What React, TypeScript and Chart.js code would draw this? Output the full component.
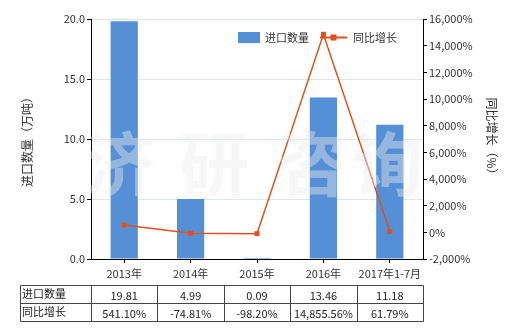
import React, { useEffect, useRef } from "react";
import { Chart, registerables } from "chart.js";

Chart.register(...registerables);

const categories = ["2013年", "2014年", "2015年", "2016年", "2017年1-7月"];
const importQty = [19.81, 4.99, 0.09, 13.46, 11.18];
const yoyGrowth = [541.1, -74.81, -98.2, 14855.56, 61.79];
const qtyLabels = ["19.81", "4.99", "0.09", "13.46", "11.18"];
const yoyLabels = ["541.10%", "-74.81%", "-98.20%", "14,855.56%", "61.79%"];
const seriesNames = ["进口数量", "同比增长"];
const watermark = ["济", "研", "咨", "询"];

const BAR = "#5590d6";
const LINE = "#e0501c";
const FONT = "'Noto Sans CJK SC', 'DejaVu Sans', sans-serif";
const TEXT = "#333333";

export default function App() {
  const ref = useRef<HTMLCanvasElement | null>(null);

  useEffect(() => {
    document.body.style.margin = "0";
    const canvas = ref.current!;
    const decor = {
      id: "decor",
      afterDatasetsDraw(chart: any) {
        const ctx = chart.ctx as CanvasRenderingContext2D;
        ctx.save();
        ctx.font = `bold 70px ${FONT}`;
        ctx.fillStyle = "rgba(236,236,236,0.42)";
        ctx.textAlign = "center";
        ctx.textBaseline = "middle";
        const wx = [120, 214, 312, 388];
        watermark.forEach((c, i) => ctx.fillText(c, wx[i], 164));
        ctx.restore();
      },
      afterDraw(chart: any) {
        const ctx = chart.ctx as CanvasRenderingContext2D;
        const x = chart.scales.x;
        ctx.save();
        // legend
        ctx.fillStyle = BAR;
        ctx.fillRect(238, 32, 22, 11);
        ctx.font = `11px ${FONT}`;
        ctx.fillStyle = TEXT;
        ctx.textBaseline = "middle";
        ctx.textAlign = "left";
        ctx.fillText(seriesNames[0], 265, 38);
        ctx.strokeStyle = LINE;
        ctx.lineWidth = 2;
        ctx.beginPath();
        ctx.moveTo(320, 37.5);
        ctx.lineTo(347, 37.5);
        ctx.stroke();
        ctx.fillStyle = LINE;
        ctx.fillRect(330.5, 34.5, 6, 6);
        ctx.fillStyle = TEXT;
        ctx.fillText(seriesNames[1], 353, 38);

        // table
        const n = categories.length;
        const half = (x.getPixelForValue(1) - x.getPixelForValue(0)) / 2;
        const left = 20.5;
        const colEdges = [left];
        for (let i = 0; i < n; i++) colEdges.push(Math.round(x.getPixelForValue(i) - half) + 0.5);
        colEdges.push(Math.round(x.getPixelForValue(n - 1) + half) + 0.5);
        const rows = [285.5, 303.5, 321.5];
        ctx.strokeStyle = "#444444";
        ctx.lineWidth = 1;
        ctx.beginPath();
        rows.forEach((r) => {
          ctx.moveTo(left, r);
          ctx.lineTo(colEdges[colEdges.length - 1], r);
        });
        colEdges.forEach((c) => {
          ctx.moveTo(c, rows[0]);
          ctx.lineTo(c, rows[2]);
        });
        ctx.stroke();
        ctx.fillStyle = "#222222";
        ctx.font = `11px ${FONT}`;
        ctx.textAlign = "left";
        ctx.fillText(seriesNames[0], 22, 294);
        ctx.fillText(seriesNames[1], 22, 312);
        ctx.textAlign = "center";
        for (let i = 0; i < n; i++) {
          const cx = x.getPixelForValue(i);
          ctx.fillText(qtyLabels[i], cx, 295.5);
          ctx.fillText(yoyLabels[i], cx, 313.5);
        }
        ctx.restore();
      },
    };

    const chart = new Chart(canvas, {
      type: "bar",
      data: {
        labels: categories,
        datasets: [
          {
            type: "line",
            label: seriesNames[1],
            data: yoyGrowth,
            yAxisID: "y1",
            borderColor: LINE,
            backgroundColor: LINE,
            borderWidth: 1.5,
            pointStyle: "rect",
            pointRadius: 3.5,
            pointBorderWidth: 0,
            order: 0,
          } as any,
          {
            type: "bar",
            label: seriesNames[0],
            data: importQty,
            yAxisID: "y",
            backgroundColor: BAR,
            barPercentage: 0.41,
            categoryPercentage: 1,
            order: 1,
          },
        ],
      },
      options: {
        animation: false,
        responsive: false,
        layout: { padding: { top: 19, bottom: 0, left: 0, right: 0 } },
        plugins: { legend: { display: false }, tooltip: { enabled: false } },
        scales: {
          x: {
            grid: { display: true, drawOnChartArea: false, offset: false, tickLength: 4, color: "#000" },
            border: { color: "#000" },
            ticks: { color: TEXT, font: { size: 11, family: FONT }, padding: 4, maxRotation: 0 },
            afterFit(s: any) { s.height = 71; },
          },
          y: {
            position: "left",
            min: 0,
            max: 20,
            ticks: {
              stepSize: 5,
              color: TEXT,
              font: { size: 11, family: FONT },
              padding: 2,
              callback: (v: any) => Number(v).toFixed(1),
            },
            grid: {
              color: (c: any) => (c.tick && c.tick.value === 0 ? "rgba(0,0,0,0)" : "#dde9e6"),
              tickColor: "#000",
              tickLength: 4,
            },
            border: { color: "#000" },
            title: { display: true, text: "进口数量（万吨）", color: TEXT, font: { size: 12, family: FONT }, padding: { top: 20, bottom: 0 } },
            afterFit(s: any) { s.width = 91; },
          },
          y1: {
            position: "right",
            min: -2000,
            max: 16000,
            ticks: {
              stepSize: 2000,
              color: TEXT,
              font: { size: 11, family: FONT },
              padding: 2,
              callback: (v: any) => Number(v).toLocaleString("en-US") + "%",
            },
            grid: { drawOnChartArea: false, tickColor: "#000", tickLength: 4 },
            border: { color: "#000" },
            title: { display: true, text: "同比增长（%）", color: TEXT, font: { size: 12, family: FONT }, padding: { top: 21, bottom: 0 } },
            afterFit(s: any) { s.width = 97; },
          },
        },
      },
      plugins: [decor],
    });
    return () => chart.destroy();
  }, []);

  return (
    <div style={{ width: 520, height: 330 }}>
      <canvas ref={ref} width={520} height={330} />
    </div>
  );
}
